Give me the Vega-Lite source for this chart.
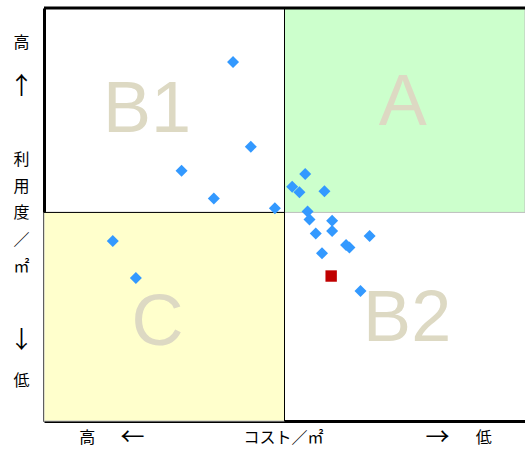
{
  "$schema": "https://vega.github.io/schema/vega-lite/v6.json",
  "width": 481,
  "height": 413,
  "autosize": {"type": "none"},
  "padding": {"left": 44, "top": 8, "right": 0, "bottom": 34},
  "background": "white",
  "config": {"view": {"stroke": null}},
  "datasets": {
    "quads": [
      {"q": "A", "x1": 50, "x2": 100, "y1": 50.5, "y2": 100},
      {"q": "C", "x1": 0, "x2": 50, "y1": 0, "y2": 50.5}
    ],
    "labels": [
      {"label": "A", "x": 74.6, "y": 77.0},
      {"label": "B1", "x": 21.4, "y": 75.3},
      {"label": "C", "x": 23.6, "y": 23.7},
      {"label": "B2", "x": 75.5, "y": 24.7}
    ],
    "points": [
      {"cost": 39.3, "use": 86.9, "type": "other"},
      {"cost": 43.0, "use": 66.4, "type": "other"},
      {"cost": 28.6, "use": 60.6, "type": "other"},
      {"cost": 35.3, "use": 53.9, "type": "other"},
      {"cost": 48.0, "use": 51.5, "type": "other"},
      {"cost": 14.3, "use": 43.6, "type": "other"},
      {"cost": 19.1, "use": 34.6, "type": "other"},
      {"cost": 54.3, "use": 59.8, "type": "other"},
      {"cost": 51.6, "use": 56.7, "type": "other"},
      {"cost": 53.1, "use": 55.4, "type": "other"},
      {"cost": 58.3, "use": 55.6, "type": "other"},
      {"cost": 54.8, "use": 50.7, "type": "other"},
      {"cost": 55.2, "use": 48.8, "type": "other"},
      {"cost": 59.9, "use": 48.5, "type": "other"},
      {"cost": 59.9, "use": 46.0, "type": "other"},
      {"cost": 56.5, "use": 45.4, "type": "other"},
      {"cost": 62.8, "use": 42.6, "type": "other"},
      {"cost": 63.5, "use": 42.0, "type": "other"},
      {"cost": 67.7, "use": 44.8, "type": "other"},
      {"cost": 57.8, "use": 40.6, "type": "other"},
      {"cost": 65.8, "use": 31.5, "type": "other"},
      {"cost": 59.7, "use": 35.1, "type": "self"}
    ]
  },
  "layer": [
    {
      "data": {"name": "quads"},
      "mark": {"type": "rect", "stroke": "#BFBFBF", "strokeWidth": 1},
      "encoding": {
        "x": {
          "field": "x1", "type": "quantitative",
          "scale": {"domain": [0, 100], "nice": false, "zero": false},
          "axis": {
            "title": null,
            "grid": false,
            "ticks": false,
            "domainColor": "black",
            "domainWidth": 3,
            "values": [8.9, 18.3, 49.7, 81.7, 91.3],
            "labelExpr": "datum.value < 10 ? '高' : datum.value < 20 ? '←' : datum.value < 60 ? 'コスト／㎡' : datum.value < 85 ? '→' : '低'",
            "labelFont": "Noto Sans CJK JP",
            "labelFontSize": {"condition": {"test": "(datum.value > 15 && datum.value < 20) || (datum.value > 80 && datum.value < 85)", "value": 24}, "value": 16},
            "labelColor": "black",
            "labelBaseline": "middle",
            "labelAlign": "center",
            "labelPadding": 16,
            "labelOverlap": false,
            "labelFlush": false,
            "labelBound": false
          }
        },
        "x2": {"field": "x2"},
        "y": {
          "field": "y1", "type": "quantitative",
          "scale": {"domain": [0, 100], "nice": false, "zero": false},
          "axis": {
            "title": null,
            "grid": false,
            "ticks": false,
            "domainColor": "black",
            "domainWidth": 3,
            "values": [91.6, 80.9, 63.2, 56.7, 50.4, 43.9, 37.3, 19.6, 9.9],
            "labelExpr": "datum.value > 90 ? '高' : datum.value > 70 ? '↑' : datum.value > 60 ? '利' : datum.value > 53 ? '用' : datum.value > 47 ? '度' : datum.value > 40 ? '／' : datum.value > 30 ? '㎡' : datum.value > 15 ? '↓' : '低'",
            "labelFont": "Noto Sans CJK JP",
            "labelFontSize": {"condition": {"test": "(datum.value > 70 && datum.value < 90) || (datum.value > 15 && datum.value < 25)", "value": 24}, "value": 16},
            "labelColor": "black",
            "labelBaseline": "middle",
            "labelAlign": "center",
            "labelPadding": 23,
            "labelOverlap": false,
            "labelFlush": false,
            "labelBound": false
          }
        },
        "y2": {"field": "y2"},
        "color": {
          "field": "q", "type": "nominal",
          "scale": {"domain": ["A", "C"], "range": ["#CCFFCC", "#FFFFCC"]},
          "legend": null
        }
      }
    },
    {
      "data": {"values": [{}]},
      "mark": {"type": "rule", "color": "black", "strokeWidth": 1},
      "encoding": {
        "x": {"datum": 50, "type": "quantitative"},
        "y": {"datum": 0, "type": "quantitative"},
        "y2": {"datum": 100}
      }
    },
    {
      "data": {"values": [{}]},
      "mark": {"type": "rule", "color": "black", "strokeWidth": 1},
      "encoding": {
        "x": {"datum": 0, "type": "quantitative"},
        "x2": {"datum": 50},
        "y": {"datum": 50.5, "type": "quantitative"}
      }
    },
    {
      "data": {"values": [{}]},
      "mark": {"type": "rule", "color": "black", "strokeWidth": 3},
      "encoding": {
        "x": {"datum": 0, "type": "quantitative"},
        "x2": {"datum": 100},
        "y": {"datum": 100, "type": "quantitative"}
      }
    },
    {
      "data": {"name": "labels"},
      "mark": {"type": "text", "font": "Liberation Sans", "fontSize": 72, "color": "#DDD9C3", "baseline": "middle", "align": "center"},
      "encoding": {
        "x": {"field": "x", "type": "quantitative"},
        "y": {"field": "y", "type": "quantitative"},
        "text": {"field": "label"}
      }
    },
    {
      "data": {"name": "points"},
      "mark": {"type": "point", "filled": true, "opacity": 1},
      "encoding": {
        "x": {"field": "cost", "type": "quantitative"},
        "y": {"field": "use", "type": "quantitative"},
        "shape": {
          "field": "type", "type": "nominal",
          "scale": {"domain": ["other", "self"], "range": ["diamond", "square"]},
          "legend": null
        },
        "color": {
          "field": "type", "type": "nominal",
          "scale": {"domain": ["other", "self"], "range": ["#3399FF", "#C00000"]},
          "legend": null
        },
        "size": {
          "field": "type", "type": "nominal",
          "scale": {"domain": ["other", "self"], "range": [144, 130]},
          "legend": null
        }
      }
    }
  ],
  "resolve": {"scale": {"color": "independent"}}
}
